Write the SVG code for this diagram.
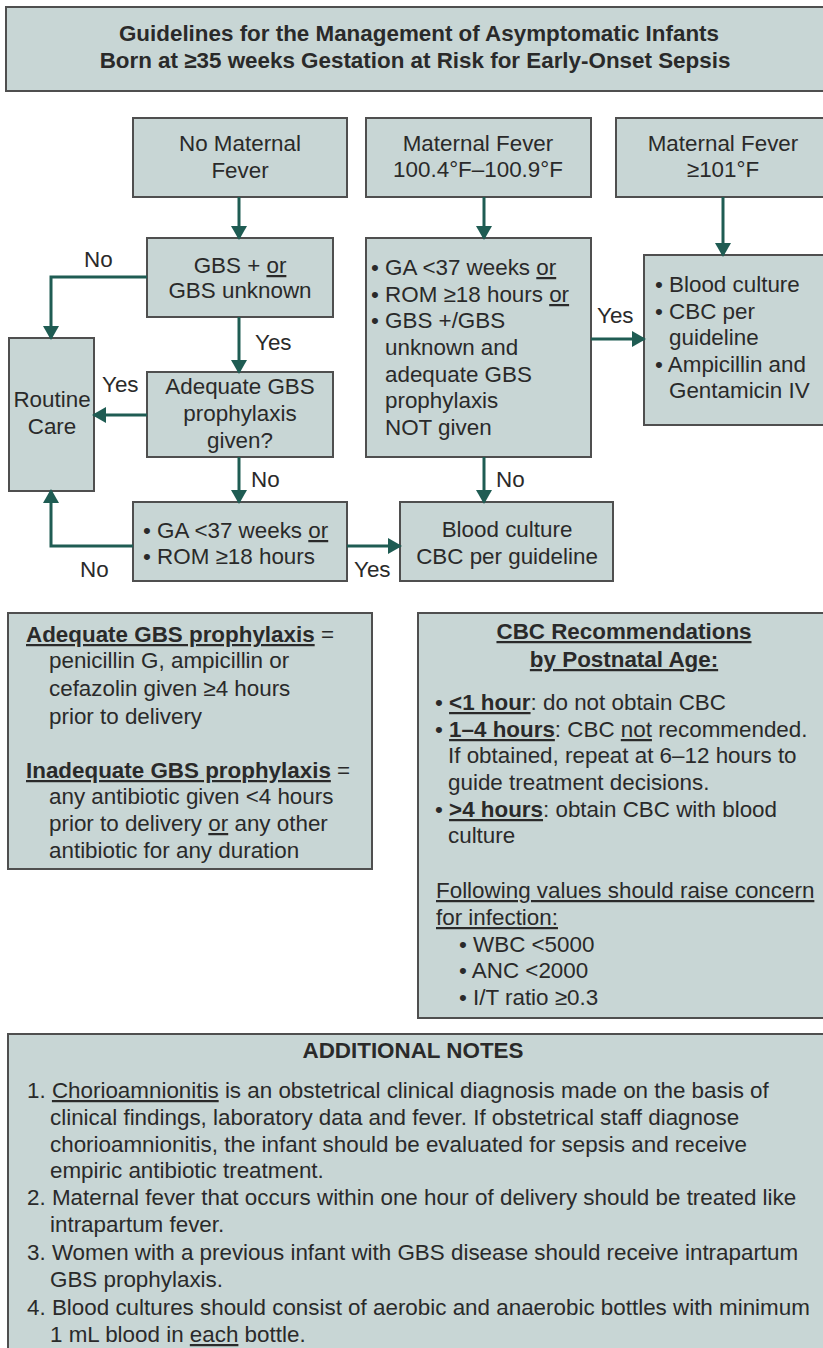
<svg xmlns="http://www.w3.org/2000/svg" width="823" height="1348" viewBox="0 0 823 1348">
  <style>
    .box { fill: #c8d6d5; stroke: #4f4f4f; stroke-width: 2; }
    .t { font-family: "Liberation Sans", Arial, Helvetica, sans-serif; font-size: 22.4px; fill: #2a2a2a; }
    .c { text-anchor: middle; }
    .b { font-weight: bold; }
    .u { text-decoration: underline; }
    .conn { fill: none; stroke: #1f5c53; stroke-width: 3; marker-end: url(#ah); }
  </style>
  <defs>
    <marker id="ah" markerUnits="userSpaceOnUse" markerWidth="14" markerHeight="16" refX="12" refY="8" orient="auto">
      <path d="M0,0 L14,8 L0,16 z" fill="#1f5c53"/>
    </marker>
  </defs>

  <rect width="823" height="1348" fill="#ffffff"/>

  <!-- Title -->
  <g id="title">
    <rect class="box" x="6" y="7" width="830" height="84"/>
    <text class="t b c" x="419" y="41">Guidelines for the Management of Asymptomatic Infants</text>
    <text class="t b c" x="415" y="68">Born at ≥35 weeks Gestation at Risk for Early-Onset Sepsis</text>
  </g>

  <!-- Entry conditions -->
  <g id="no-fever">
    <rect class="box" x="133" y="118" width="214" height="79"/>
    <text class="t c" x="240" y="151">No Maternal</text>
    <text class="t c" x="240" y="178">Fever</text>
  </g>
  <g id="mid-fever">
    <rect class="box" x="366" y="118" width="225" height="79"/>
    <text class="t c" x="478" y="151">Maternal Fever</text>
    <text class="t c" x="478" y="177">100.4°F–100.9°F</text>
  </g>
  <g id="high-fever">
    <rect class="box" x="616" y="118" width="220" height="79"/>
    <text class="t c" x="723" y="151">Maternal Fever</text>
    <text class="t c" x="723" y="177">≥101°F</text>
  </g>

  <!-- Decision nodes -->
  <g id="gbs-status">
    <rect class="box" x="147" y="238" width="186" height="79"/>
    <text class="t c" x="240" y="273">GBS + <tspan class="u">or</tspan></text>
    <text class="t c" x="240" y="298">GBS unknown</text>
  </g>
  <g id="routine-care">
    <rect class="box" x="9" y="338" width="85" height="153"/>
    <text class="t c" x="52" y="407">Routine</text>
    <text class="t c" x="52" y="434">Care</text>
  </g>
  <g id="adequate-prophylaxis">
    <rect class="box" x="147" y="372" width="186" height="85"/>
    <text class="t c" x="240" y="394">Adequate GBS</text>
    <text class="t c" x="240" y="421">prophylaxis</text>
    <text class="t c" x="240" y="448">given?</text>
  </g>
  <g id="risk-criteria">
    <rect class="box" x="366" y="238" width="225" height="219"/>
    <text class="t" x="371" y="275">• GA &lt;37 weeks <tspan class="u">or</tspan></text>
    <text class="t" x="371" y="302">• ROM ≥18 hours <tspan class="u">or</tspan></text>
    <text class="t" x="371" y="328">• GBS +/GBS</text>
    <text class="t" x="385" y="355">unknown and</text>
    <text class="t" x="385" y="382">adequate GBS</text>
    <text class="t" x="385" y="408">prophylaxis</text>
    <text class="t" x="385" y="435">NOT given</text>
  </g>
  <g id="full-treatment">
    <rect class="box" x="644" y="255" width="190" height="170"/>
    <text class="t" x="655" y="292">• Blood culture</text>
    <text class="t" x="655" y="319">• CBC per</text>
    <text class="t" x="669" y="345">guideline</text>
    <text class="t" x="655" y="372">• Ampicillin and</text>
    <text class="t" x="669" y="398">Gentamicin IV</text>
  </g>
  <g id="ga-rom">
    <rect class="box" x="133" y="502" width="214" height="79"/>
    <text class="t" x="143" y="538">• GA &lt;37 weeks <tspan class="u">or</tspan></text>
    <text class="t" x="143" y="564">• ROM ≥18 hours</text>
  </g>
  <g id="blood-culture">
    <rect class="box" x="400" y="502" width="213" height="79"/>
    <text class="t c" x="507" y="537">Blood culture</text>
    <text class="t c" x="507" y="564">CBC per guideline</text>
  </g>

  <!-- Connectors -->
  <g id="connectors">
    <path class="conn" d="M239,197 V238"/>
    <path class="conn" d="M147,277 H51 V338"/>
    <path class="conn" d="M239,317 V372"/>
    <path class="conn" d="M147,415 H94"/>
    <path class="conn" d="M239,457 V502"/>
    <path class="conn" d="M133,546 H51 V491"/>
    <path class="conn" d="M347,546 H400"/>
    <path class="conn" d="M484,197 V238"/>
    <path class="conn" d="M484,457 V502"/>
    <path class="conn" d="M591,339 H644"/>
    <path class="conn" d="M723,197 V255"/>
  </g>

  <!-- Connector labels -->
  <g id="labels">
    <text class="t" x="84" y="267">No</text>
    <text class="t" x="255" y="350">Yes</text>
    <text class="t" x="102" y="392">Yes</text>
    <text class="t" x="251" y="487">No</text>
    <text class="t" x="80" y="577">No</text>
    <text class="t" x="354" y="577">Yes</text>
    <text class="t" x="496" y="487">No</text>
    <text class="t" x="597" y="323">Yes</text>
  </g>

  <!-- Prophylaxis definitions -->
  <g id="prophylaxis-definitions">
    <rect class="box" x="8" y="613" width="364" height="256"/>
    <text class="t" x="26" y="642"><tspan class="b u">Adequate GBS prophylaxis</tspan> =</text>
    <text class="t" x="49" y="668">penicillin G, ampicillin or</text>
    <text class="t" x="49" y="696">cefazolin given ≥4 hours</text>
    <text class="t" x="49" y="724">prior to delivery</text>
    <text class="t" x="26" y="778"><tspan class="b u">Inadequate GBS prophylaxis</tspan> =</text>
    <text class="t" x="49" y="804">any antibiotic given &lt;4 hours</text>
    <text class="t" x="49" y="831">prior to delivery <tspan class="u">or</tspan> any other</text>
    <text class="t" x="49" y="858">antibiotic for any duration</text>
  </g>

  <!-- CBC recommendations -->
  <g id="cbc-recommendations">
    <rect class="box" x="418" y="613" width="420" height="405"/>
    <text class="t b u c" x="624" y="639">CBC Recommendations</text>
    <text class="t b u c" x="624" y="667">by Postnatal Age:</text>
    <text class="t" x="435" y="710">• <tspan class="b u">&lt;1 hour</tspan>: do not obtain CBC</text>
    <text class="t" x="435" y="737">• <tspan class="b u">1–4 hours</tspan>: CBC <tspan class="u">not</tspan> recommended.</text>
    <text class="t" x="448" y="763">If obtained, repeat at 6–12 hours to</text>
    <text class="t" x="448" y="790">guide treatment decisions.</text>
    <text class="t" x="435" y="817">• <tspan class="b u">&gt;4 hours</tspan>: obtain CBC with blood</text>
    <text class="t" x="448" y="843">culture</text>
    <text class="t u" x="436" y="898">Following values should raise concern</text>
    <text class="t u" x="436" y="925">for infection:</text>
    <text class="t" x="459" y="952">• WBC &lt;5000</text>
    <text class="t" x="459" y="978">• ANC &lt;2000</text>
    <text class="t" x="459" y="1005">• I/T ratio ≥0.3</text>
  </g>

  <!-- Additional notes -->
  <g id="additional-notes">
    <rect class="box" x="8" y="1034" width="830" height="330"/>
    <text class="t b c" x="413" y="1058">ADDITIONAL NOTES</text>
    <text class="t" x="27" y="1098">1. <tspan class="u">Chorioamnionitis</tspan> is an obstetrical clinical diagnosis made on the basis of</text>
    <text class="t" x="50" y="1125">clinical findings, laboratory data and fever. If obstetrical staff diagnose</text>
    <text class="t" x="50" y="1152">chorioamnionitis, the infant should be evaluated for sepsis and receive</text>
    <text class="t" x="50" y="1178">empiric antibiotic treatment.</text>
    <text class="t" x="27" y="1205">2. Maternal fever that occurs within one hour of delivery should be treated like</text>
    <text class="t" x="50" y="1232">intrapartum fever.</text>
    <text class="t" x="27" y="1260">3. Women with a previous infant with GBS disease should receive intrapartum</text>
    <text class="t" x="50" y="1287">GBS prophylaxis.</text>
    <text class="t" x="27" y="1315">4. Blood cultures should consist of aerobic and anaerobic bottles with minimum</text>
    <text class="t" x="50" y="1342">1 mL blood in <tspan class="u">each</tspan> bottle.</text>
  </g>
</svg>
